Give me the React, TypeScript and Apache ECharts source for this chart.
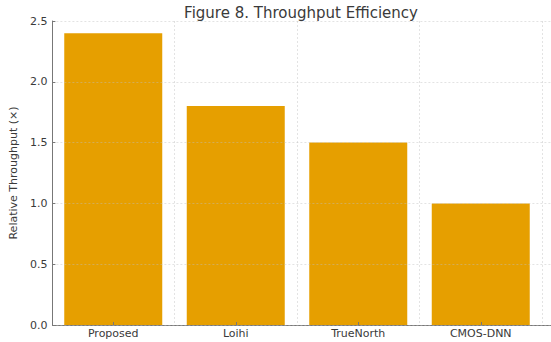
import React, { useEffect, useRef } from "react";
import * as echarts from "echarts";

const categories = ["Proposed", "Loihi", "TrueNorth", "CMOS-DNN"];
const throughput = [2.4, 1.8, 1.5, 1.0];
const yTicks = [0, 0.5, 1.0, 1.5, 2.0, 2.5];

const FONT = "DejaVu Sans";
const GRID_COLOR = "rgba(190,190,190,0.55)";
const SPINE = "#777777";
const TEXT = "#3a3a3a";

export default function App() {
  const ref = useRef<HTMLDivElement>(null);

  useEffect(() => {
    if (!ref.current) return;
    const chart = echarts.init(ref.current, null, { renderer: "svg" });
    const yMax = yTicks[yTicks.length - 1];

    chart.setOption({
      animation: false,
      backgroundColor: "#ffffff",
      textStyle: { fontFamily: FONT },
      title: {
        text: "Figure 8. Throughput Efficiency",
        left: 296,
        top: 0,
        textAlign: "center",
        textStyle: {
          fontFamily: FONT,
          fontSize: 15,
          fontWeight: "normal",
          color: TEXT,
        },
      },
      grid: [
        // frame grid: spines and horizontal grid lines over the full plot
        { left: 41, right: -2, top: 21, bottom: 17 },
        // bar grid: category bands inset by the outer margins
        { left: 52, width: 490, top: 21, bottom: 17 },
      ],
      xAxis: [
        {
          type: "value",
          gridIndex: 0,
          min: 0,
          max: 1,
          axisLine: { show: true, lineStyle: { color: SPINE, width: 1 } },
          axisTick: { show: false },
          axisLabel: { show: false },
          splitLine: { show: false },
        },
        {
          type: "category",
          gridIndex: 1,
          data: categories,
          z: 5,
          axisLine: { show: false },
          axisTick: {
            show: true,
            alignWithLabel: true,
            inside: true,
            length: 3,
            lineStyle: { color: SPINE },
          },
          axisLabel: {
            fontFamily: FONT,
            fontSize: 11,
            color: TEXT,
            margin: 3,
          },
          splitLine: {
            show: true,
            lineStyle: { color: GRID_COLOR, type: [2, 2], width: 0.8 },
          },
        },
      ],
      yAxis: [
        {
          type: "value",
          gridIndex: 0,
          min: 0,
          max: yMax,
          interval: 0.5,
          z: 5,
          name: "Relative Throughput (×)",
          nameLocation: "middle",
          nameGap: 28,
          nameTextStyle: { fontFamily: FONT, fontSize: 11, color: TEXT },
          axisLine: { show: true, lineStyle: { color: SPINE, width: 1 } },
          axisTick: {
            show: true,
            inside: true,
            length: 3,
            lineStyle: { color: SPINE },
          },
          axisLabel: {
            fontFamily: FONT,
            fontSize: 11,
            color: TEXT,
            margin: 5,
            formatter: (v: number) => v.toFixed(1),
          },
          splitLine: {
            show: true,
            lineStyle: { color: GRID_COLOR, type: [2, 2], width: 0.8 },
          },
        },
        {
          type: "value",
          gridIndex: 1,
          min: 0,
          max: yMax,
          interval: 0.5,
          show: false,
          splitLine: { show: false },
        },
      ],
      series: [
        {
          type: "bar",
          xAxisIndex: 1,
          yAxisIndex: 1,
          data: throughput,
          barWidth: "80%",
          z: 2,
          itemStyle: { color: "#E69F00" },
        },
      ],
    });

    return () => chart.dispose();
  }, []);

  return (
    <div
      ref={ref}
      style={{ position: "fixed", left: 0, top: 0, width: 551, height: 342 }}
    />
  );
}
